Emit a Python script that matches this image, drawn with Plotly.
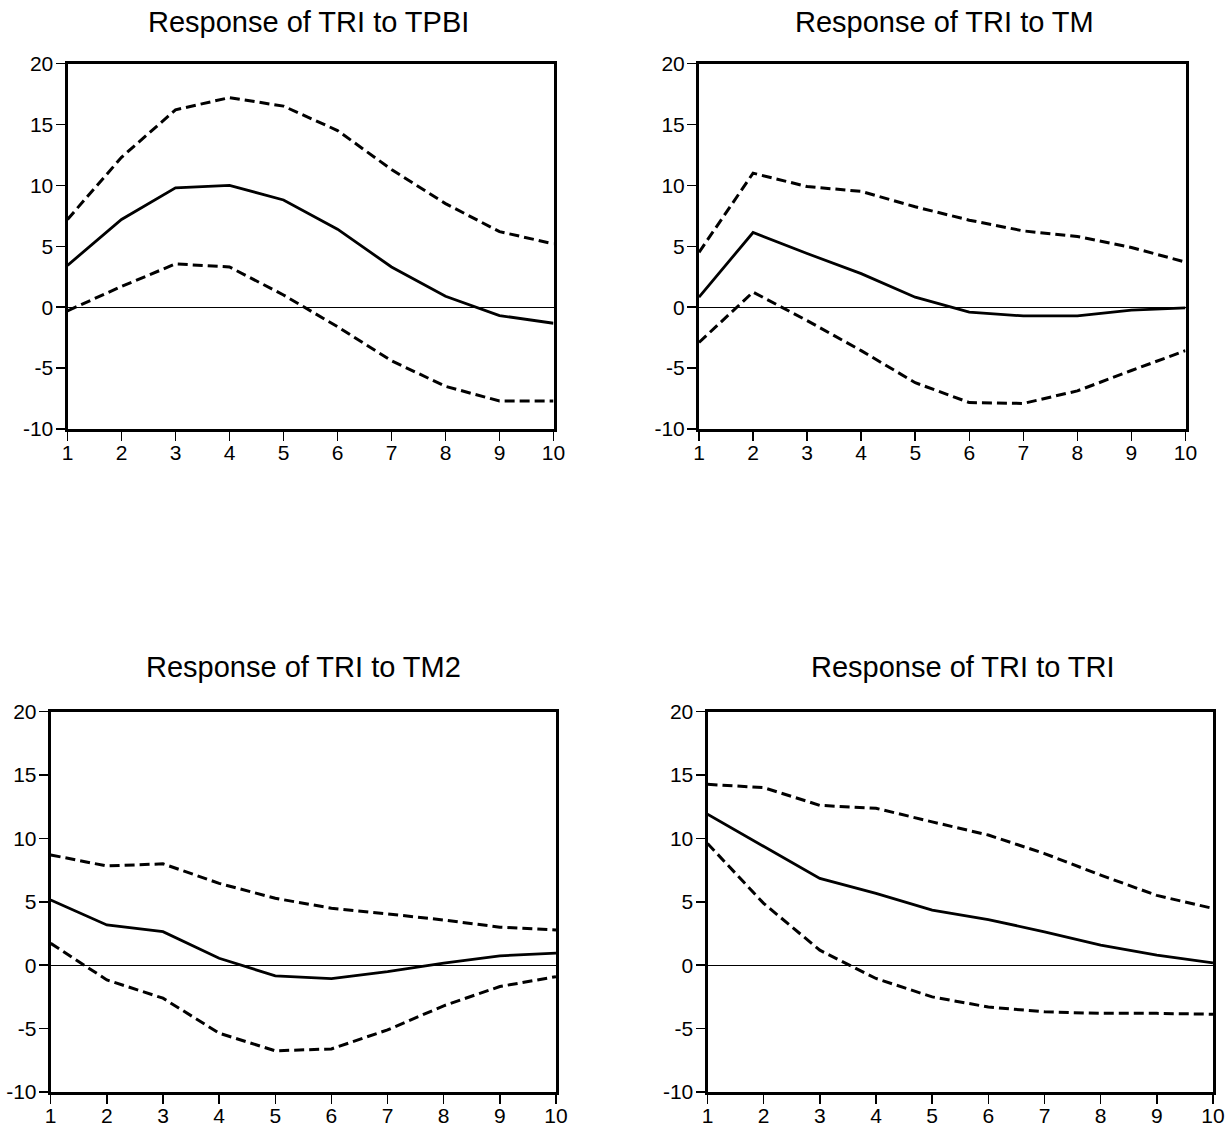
import plotly.graph_objects as go

W, H = 1228, 1128
periods = list(range(1, 11))

titles = ["Response of TRI to TPBI", "Response of TRI to TM",
          "Response of TRI to TM2", "Response of TRI to TRI"]

tpbi_mid = [3.43, 7.2, 9.8, 10.0, 8.8, 6.4, 3.3, 0.9, -0.69, -1.32]
tpbi_up = [7.2, 12.3, 16.2, 17.2, 16.5, 14.5, 11.3, 8.5, 6.2, 5.2]
tpbi_lo = [-0.3, 1.7, 3.55, 3.3, 1.0, -1.6, -4.4, -6.5, -7.7, -7.7]

tm_mid = [0.82, 6.13, 4.4, 2.75, 0.82, -0.41, -0.72, -0.72, -0.25, -0.05]
tm_up = [4.5, 11.0, 9.9, 9.5, 8.24, 7.14, 6.26, 5.8, 4.9, 3.7]
tm_lo = [-2.9, 1.24, -1.1, -3.57, -6.2, -7.83, -7.9, -6.87, -5.2, -3.57]

tm2_mid = [5.15, 3.18, 2.65, 0.55, -0.84, -1.05, -0.5, 0.16, 0.74, 0.95]
tm2_up = [8.7, 7.83, 8.0, 6.46, 5.28, 4.5, 4.05, 3.57, 3.0, 2.78]
tm2_lo = [1.73, -1.16, -2.6, -5.36, -6.75, -6.6, -5.1, -3.2, -1.68, -0.9]

tri_mid = [11.9, 9.34, 6.84, 5.66, 4.34, 3.6, 2.63, 1.58, 0.79, 0.18]
tri_up = [14.26, 14.0, 12.6, 12.37, 11.3, 10.26, 8.8, 7.1, 5.5, 4.47]
tri_lo = [9.6, 4.87, 1.18, -1.05, -2.5, -3.3, -3.68, -3.8, -3.8, -3.87]

series = [(tpbi_mid, tpbi_up, tpbi_lo), (tm_mid, tm_up, tm_lo),
          (tm2_mid, tm2_up, tm2_lo), (tri_mid, tri_up, tri_lo)]

y_ticks = [-10, -5, 0, 5, 10, 15, 20]
y_tick_text = ["-10", "-5", "0", "5", "10", "15", "20"]
x_tick_text = [str(p) for p in periods]

# pixel boxes in the screenshot: (left, right, top, bottom)
boxes = [(67.5, 553.5, 63.5, 429.0),
         (699.0, 1185.5, 63.5, 429.0),
         (50.7, 556.0, 711.7, 1092.0),
         (707.5, 1213.0, 711.5, 1092.0)]
title_pos = [(308.5, 22), (944, 22), (303.3, 667), (962.5, 667)]

FONT = "Liberation Sans, Arial, sans-serif"
fig = go.Figure()

for i, ((mid, up, lo), (l, r, t, b)) in enumerate(zip(series, boxes)):
    n = "" if i == 0 else str(i + 1)
    xa, ya = "x" + n, "y" + n
    for vals, dash, wdt in [(up, "10px,5px", 3.0), (lo, "10px,5px", 3.0), (mid, "solid", 2.8)]:
        fig.add_trace(go.Scatter(x=periods, y=vals, mode="lines", xaxis=xa, yaxis=ya,
                                 line=dict(color="black", width=wdt, dash=dash),
                                 showlegend=False, hoverinfo="skip"))
    common = dict(showline=True, linecolor="black", linewidth=3, mirror=True,
                  ticks="outside", ticklen=9, tickwidth=1.5, tickcolor="black",
                  showgrid=False, automargin=False,
                  tickfont=dict(family=FONT, size=21, color="black"))
    fig.layout["xaxis" + n] = dict(domain=[l / W, r / W], range=[1, 10],
                                   tickvals=periods, ticktext=x_tick_text,
                                   anchor=ya, zeroline=False,
                                   ticklabelstandoff=-6, **common)
    fig.layout["yaxis" + n] = dict(domain=[1 - b / H, 1 - t / H], range=[-10, 20],
                                   tickvals=y_ticks, ticktext=y_tick_text,
                                   anchor=xa, zeroline=True,
                                   zerolinecolor="black", zerolinewidth=1,
                                   ticklabelstandoff=-2, **common)
    tx, ty = title_pos[i]
    fig.add_annotation(text=titles[i], xref="paper", yref="paper",
                       x=tx / W, y=1 - ty / H,
                       xanchor="center", yanchor="middle", showarrow=False,
                       borderpad=0,
                       font=dict(family=FONT, size=29, color="black"))

fig.update_layout(width=W, height=H,
                  margin=dict(l=0, r=0, t=0, b=0, pad=0, autoexpand=False),
                  showlegend=False, hovermode=False,
                  paper_bgcolor="white", plot_bgcolor="white")
fig.write_html(
    "out.html",
    config={"displayModeBar": False, "staticPlot": True},
    post_script=("document.documentElement.style.overflow='hidden';"
                 "document.body.style.margin='0';"
                 "document.body.style.overflow='hidden';"),
)
